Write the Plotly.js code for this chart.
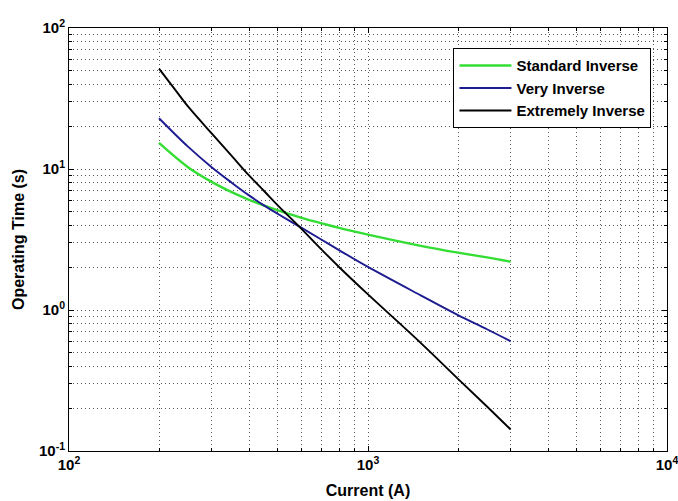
<!DOCTYPE html>
<html>
<head>
<meta charset="utf-8">
<script src="https://cdn.plot.ly/plotly-3.0.1.min.js"></script>
<style>html,body{margin:0;padding:0;background:#fff;}#chart{width:678px;height:501px;}</style>
</head>
<body>
<div id="chart"></div>
<script>
// Current (A)
const current = [200, 250, 300, 350, 400, 450, 500, 600, 700, 800, 1000, 1500, 2000, 2500, 3000];
// Operating time (s)
const standardInverse = [15.3, 10.3, 8.1, 6.85, 6.05, 5.5, 5.08, 4.5, 4.12, 3.82, 3.42, 2.85, 2.55, 2.36, 2.2];
const veryInverse = [22.9, 14.4, 10.3, 8.0, 6.5, 5.5, 4.8, 3.82, 3.15, 2.66, 2.02, 1.27, 0.92, 0.73, 0.60];
const currentExt = [200, 225, 250, 300, 350, 400, 450, 500, 600, 700, 800, 1000, 1500, 2000, 2500, 3000];
const extremelyInverse = [51.5, 37.2, 27.8, 17.9, 12.4, 9.0, 6.95, 5.5, 3.75, 2.68, 2.02, 1.29, 0.585, 0.325, 0.207, 0.142];

const seriesNames = ['Standard Inverse', 'Very Inverse', 'Extremely Inverse'];
const xTickVals = [100, 1000, 10000];
const xTickText = ['10<sup>2</sup>', '10<sup>3</sup>', '10<sup>4</sup>'];
const yTickVals = [0.1, 1, 10, 100];
const yTickText = ['10<sup>-1</sup>', '10<sup>0</sup>', '10<sup>1</sup>', '10<sup>2</sup>'];

const FONT = '"Liberation Sans", Arial, sans-serif';

const traces = [
  {x: current, y: standardInverse, name: seriesNames[0], mode: 'lines', line: {color: '#33dd33', width: 2.4, shape: 'spline', smoothing: 1}},
  {x: current, y: veryInverse, name: seriesNames[1], mode: 'lines', line: {color: '#1c1c90', width: 1.9, shape: 'spline', smoothing: 1}},
  {x: currentExt, y: extremelyInverse, name: seriesNames[2], mode: 'lines', line: {color: '#000000', width: 1.9, shape: 'spline', smoothing: 1}}
];

const gridStyle = {showgrid: true, gridcolor: '#555', griddash: '1px,3px', gridwidth: 1};

const layout = {
  width: 678, height: 501,
  margin: {l: 69, r: 11, t: 28, b: 50},
  paper_bgcolor: '#fff', plot_bgcolor: '#fff',
  font: {family: FONT, color: '#000', size: 14, weight: 'bold'},
  showlegend: true,
  legend: {
    x: 0.974, y: 0.952, xanchor: 'right', yanchor: 'top',
    bgcolor: '#fff', bordercolor: '#000', borderwidth: 1,
    font: {family: FONT, size: 15, weight: 'bold', color: '#000'},
    itemwidth: 52, tracegroupgap: 0
  },
  xaxis: Object.assign({
    type: 'log', range: [2, 4],
    tickvals: xTickVals, ticktext: xTickText,
    ticks: 'inside', ticklen: 5, tickcolor: '#000',
    showline: true, linecolor: '#000', linewidth: 1, mirror: 'ticks',
    zeroline: false, ticklabeloverflow: 'allow',
    tickfont: {family: FONT, size: 15, weight: 'bold'},
    title: {text: 'Current (A)', font: {family: FONT, size: 16, weight: 'bold'}, standoff: 12},
    minor: Object.assign({ticks: 'inside', ticklen: 3, tickcolor: '#000', dtick: 'D1'}, gridStyle)
  }, gridStyle),
  yaxis: Object.assign({
    type: 'log', range: [-1, 2],
    tickvals: yTickVals, ticktext: yTickText,
    ticks: 'inside', ticklen: 5, tickcolor: '#000',
    showline: true, linecolor: '#000', linewidth: 1, mirror: 'ticks',
    zeroline: false, ticklabeloverflow: 'allow',
    tickfont: {family: FONT, size: 15, weight: 'bold'},
    title: {text: 'Operating Time (s)', font: {family: FONT, size: 16, weight: 'bold'}, standoff: 10},
    minor: Object.assign({ticks: 'inside', ticklen: 3, tickcolor: '#000', dtick: 'D1'}, gridStyle)
  }, gridStyle)
};

Plotly.newPlot('chart', traces, layout, {displayModeBar: false, staticPlot: true});
</script>
</body>
</html>
